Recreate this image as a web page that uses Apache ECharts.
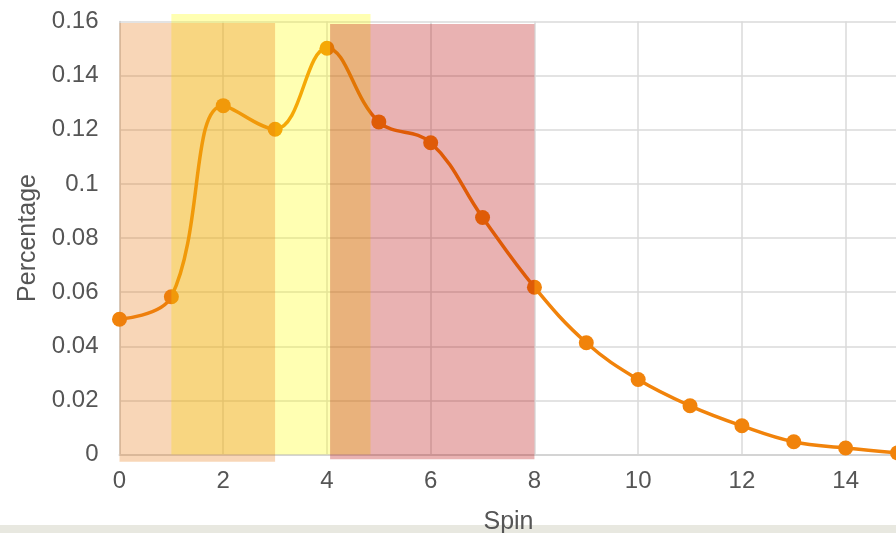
<!DOCTYPE html>
<html>
<head>
<meta charset="utf-8">
<script src="https://cdn.jsdelivr.net/npm/echarts@6/dist/echarts.min.js"></script>
<style>html,body{margin:0;padding:0;background:#fff;}#chart{width:896px;height:533px;}</style>
</head>
<body>
<div id="chart"></div>
<script>
// Data
var spin = [0, 1, 2, 3, 4, 5, 6, 7, 8, 9, 10, 11, 12, 13, 14, 15];
var percentage = [0.0500, 0.0583, 0.1289, 0.1202, 0.1501, 0.1229, 0.1152, 0.0876, 0.0618, 0.0413, 0.0277, 0.0180, 0.0106, 0.0047, 0.0024, 0.0006];
// Highlight bands (x range and y range in data units), drawn in this order
var bandStart = [1, 0, 4.06];
var bandEnd = [4.84, 3, 8];
var bandLow = [0, -0.0027, -0.0018];
var bandHigh = [0.1628, 0.1594, 0.1591];
var bandColors = ['rgba(255,255,0,0.3)', 'rgba(232,118,15,0.3)', 'rgba(182,0,0,0.3)'];

var font = 'Liberation Sans, Arial, sans-serif';
var bandData = bandStart.map(function (s, i) { return [s, bandEnd[i], bandLow[i], bandHigh[i], i]; });

var chart = echarts.init(document.getElementById('chart'), null, { renderer: 'canvas' });
chart.setOption({
  animation: false,
  backgroundColor: '#fff',
  grid: { left: 119.5, top: 21.5, width: 778, height: 433, containLabel: false, outerBoundsMode: 'none' },
  xAxis: {
    type: 'value', min: 0, max: 15, interval: 2,
    name: 'Spin', nameLocation: 'middle', nameGap: 55,
    nameTextStyle: { color: '#555', fontSize: 25, fontFamily: font },
    axisLine: { show: true, lineStyle: { color: '#d4d4d4', width: 2 } },
    axisTick: { show: false },
    axisLabel: { color: '#555', fontSize: 24, fontFamily: font, margin: 15, showMaxLabel: false },
    splitLine: { show: true, lineStyle: { color: '#dadada', width: 1.5 } }
  },
  yAxis: {
    type: 'value', min: 0, max: 0.16, interval: 0.02,
    name: 'Percentage', nameLocation: 'middle', nameGap: 77,
    nameTextStyle: { color: '#555', fontSize: 25, fontFamily: font },
    axisLine: { show: true, lineStyle: { color: '#d0d0d0', width: 1.5 } },
    axisTick: { show: false },
    axisLabel: { color: '#555', fontSize: 24, fontFamily: font, margin: 21 },
    splitLine: { show: true, lineStyle: { color: '#dadada', width: 1.5 } }
  },
  series: [
    {
      type: 'line',
      data: spin.map(function (x, i) { return [x, percentage[i]]; }),
      smooth: 0.4,
      symbol: 'circle', symbolSize: 15,
      lineStyle: { color: '#f1830b', width: 3.5 },
      itemStyle: { color: '#f1830b' },
      z: 2
    },
    {
      type: 'custom',
      clip: false,
      z: 5,
      silent: true,
      encode: { x: [0, 1], y: [2, 3] },
      data: bandData,
      renderItem: function (params, api) {
        var p1 = api.coord([api.value(0), api.value(3)]);
        var p2 = api.coord([api.value(1), api.value(2)]);
        return {
          type: 'rect',
          shape: { x: p1[0], y: p1[1], width: p2[0] - p1[0], height: p2[1] - p1[1] },
          style: { fill: bandColors[api.value(4)] }
        };
      }
    }
  ],
  graphic: [
    { type: 'rect', left: 0, top: 525, z: -10, shape: { width: 896, height: 8 }, style: { fill: '#e8e8e0' } }
  ]
});
</script>
</body>
</html>
